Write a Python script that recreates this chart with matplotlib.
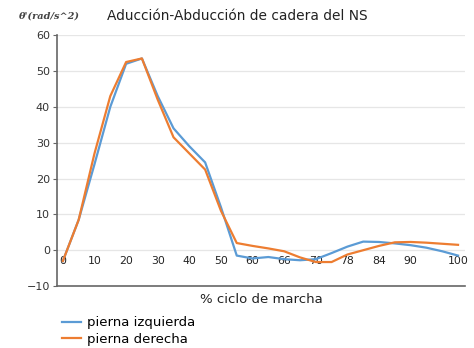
import matplotlib
matplotlib.use("Agg")
import matplotlib.pyplot as plt

# puntos del ciclo de marcha (eje de categorias)
puntos = list(range(26))
izquierda = [-3, 8.5, 24, 40, 52, 53.5, 43, 34, 29, 24.5, 12, -1.5, -2.3, -1.9,
             -2.5, -2.8, -2.5, -0.8, 1, 2.4, 2.3, 1.9, 1.4, 0.7, -0.3, -1.5]
derecha = [-3, 8.5, 27, 43, 52.5, 53.5, 42, 31.5, 27, 22.5, 11, 2, 1.2, 0.5,
           -0.3, -2, -3.3, -3.3, -1.2, 0, 1.2, 2.2, 2.3, 2.1, 1.8, 1.5]
etiquetas_x = ["0", "10", "20", "30", "40", "50", "60", "66", "70", "78", "84", "90", "100"]
puntos_etiqueta = [0, 2, 4, 6, 8, 10, 12, 14, 16, 18, 20, 22, 25]
ticks_y = [-10, 0, 10, 20, 30, 40, 50, 60]

fig = plt.figure(figsize=(4.74, 3.48), dpi=100)
ax = fig.add_axes([0.120, 0.178, 0.861, 0.721])

for t in ticks_y[1:]:
    ax.axhline(t, color="#e6e6e6", lw=0.9, zorder=0)

ax.plot(puntos, izquierda, color="#5b9bd5", lw=1.6, label="pierna izquierda")
ax.plot(puntos, derecha, color="#ed7d31", lw=1.6, label="pierna derecha")

ax.set_ylim(-10, 60)
ax.set_xlim(-0.38, 25.44)
ax.set_yticks(ticks_y)
ax.tick_params(axis="y", labelsize=8, length=3, color="#666666", labelcolor="#333333", pad=2)
ax.set_xticks([])
for s in ["top", "right"]:
    ax.spines[s].set_visible(False)
for s in ["left", "bottom"]:
    ax.spines[s].set_color("#666666")
    ax.spines[s].set_linewidth(1.2)

# etiquetas del eje x a la altura de y = 0
sec = ax.secondary_xaxis(10 / 70)
sec.set_xticks(puntos_etiqueta)
sec.set_xticklabels(etiquetas_x)
sec.tick_params(length=0, labelsize=7.8, labelcolor="#222222", pad=4)
sec.spines["bottom"].set_visible(False)

ax.set_xlabel("% ciclo de marcha", fontsize=9.5, color="#222222", labelpad=5)
fig.text(0.5, 0.955, "Aducción-Abducción de cadera del NS", ha="center", va="center",
         fontsize=9.9, color="#222222")
fig.text(0.04, 0.955, "θ'(rad/s^2)", ha="left", va="center", fontsize=7,
         family="DejaVu Serif", style="italic", weight="bold", color="#444444")

ax.legend(loc="upper left", bbox_to_anchor=(0.0, -0.10), frameon=False,
          fontsize=9.5, handlelength=1.4, handletextpad=0.5, labelspacing=0.25,
          borderaxespad=0)

fig.savefig("out.png", dpi=100, facecolor="white")
